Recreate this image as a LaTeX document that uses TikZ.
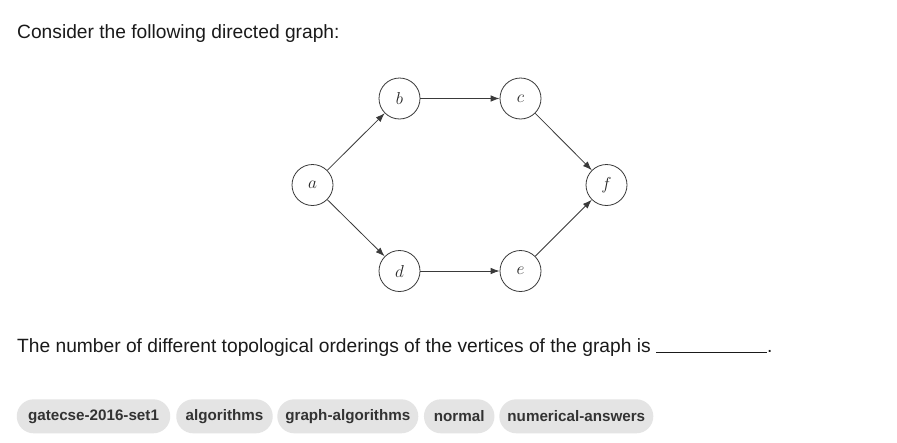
\documentclass[tikz,border=0pt]{standalone}
\usepackage{fontspec}
\setmainfont{Liberation Sans}
\newfontfamily\pillfont{Liberation Sans Bold}
\usetikzlibrary{arrows.meta}
\definecolor{edgegray}{HTML}{3A3A3A}
\definecolor{pillfill}{HTML}{E4E4E4}
\definecolor{pilltext}{HTML}{333333}
\definecolor{bodytext}{HTML}{1A1A1A}
\tikzset{
  vtx/.style={circle, draw=edgegray, line width=0.8pt, minimum size=41pt, inner sep=0pt,
    font=\fontsize{18}{18}\selectfont, text=black!85},
  arc/.style={draw=edgegray, line width=0.8pt, -{Latex[length=9pt,width=6.5pt]}},
  pill/.style={fill=pillfill, rounded corners=17pt, minimum height=34pt, inner sep=0pt,
    font=\pillfont\fontsize{15.2}{15.2}\selectfont, text=pilltext},
  body/.style={anchor=base west, inner sep=0pt, font=\fontsize{19.2}{19.2}\selectfont, text=bodytext}
}
\begin{document}
\begin{tikzpicture}[x=1pt,y=-1pt]
\useasboundingbox (0,0) rectangle (897,442);
\fill[white] (0,0) rectangle (897,442);
\node[body] (q1) at (17,38) {Consider the following directed graph:};
\node[vtx] (a) at (312.5,185) {$a$};
\node[vtx] (b) at (399.5,98.5) {$b$};
\node[vtx] (c) at (520.5,98.5) {$c$};
\node[vtx] (f) at (606.5,185) {$f$};
\node[vtx] (d) at (399.5,271) {$d$};
\node[vtx] (e) at (520.5,271) {$e$};
\draw[arc] (a) -- (b);
\draw[arc] (b) -- (c);
\draw[arc] (c) -- (f);
\draw[arc] (a) -- (d);
\draw[arc] (d) -- (e);
\draw[arc] (e) -- (f);
\node[body] (q2) at (17,352) {The number of different topological orderings of the vertices of the graph is \rule[-1pt]{111pt}{1pt}.};
\node[pill, minimum width=153.5pt] (t1) at (93.5,416.3) {gatecse-2016-set1};
\node[pill, minimum width=96.5pt] (t2) at (224.5,416.3) {algorithms};
\node[pill, minimum width=141pt] (t3) at (347.8,416.3) {graph-algorithms};
\node[pill, minimum width=70.5pt] (t4) at (459.2,416.3) {normal};
\node[pill, minimum width=154pt] (t5) at (576.3,416.3) {numerical-answers};
\end{tikzpicture}
\end{document}
